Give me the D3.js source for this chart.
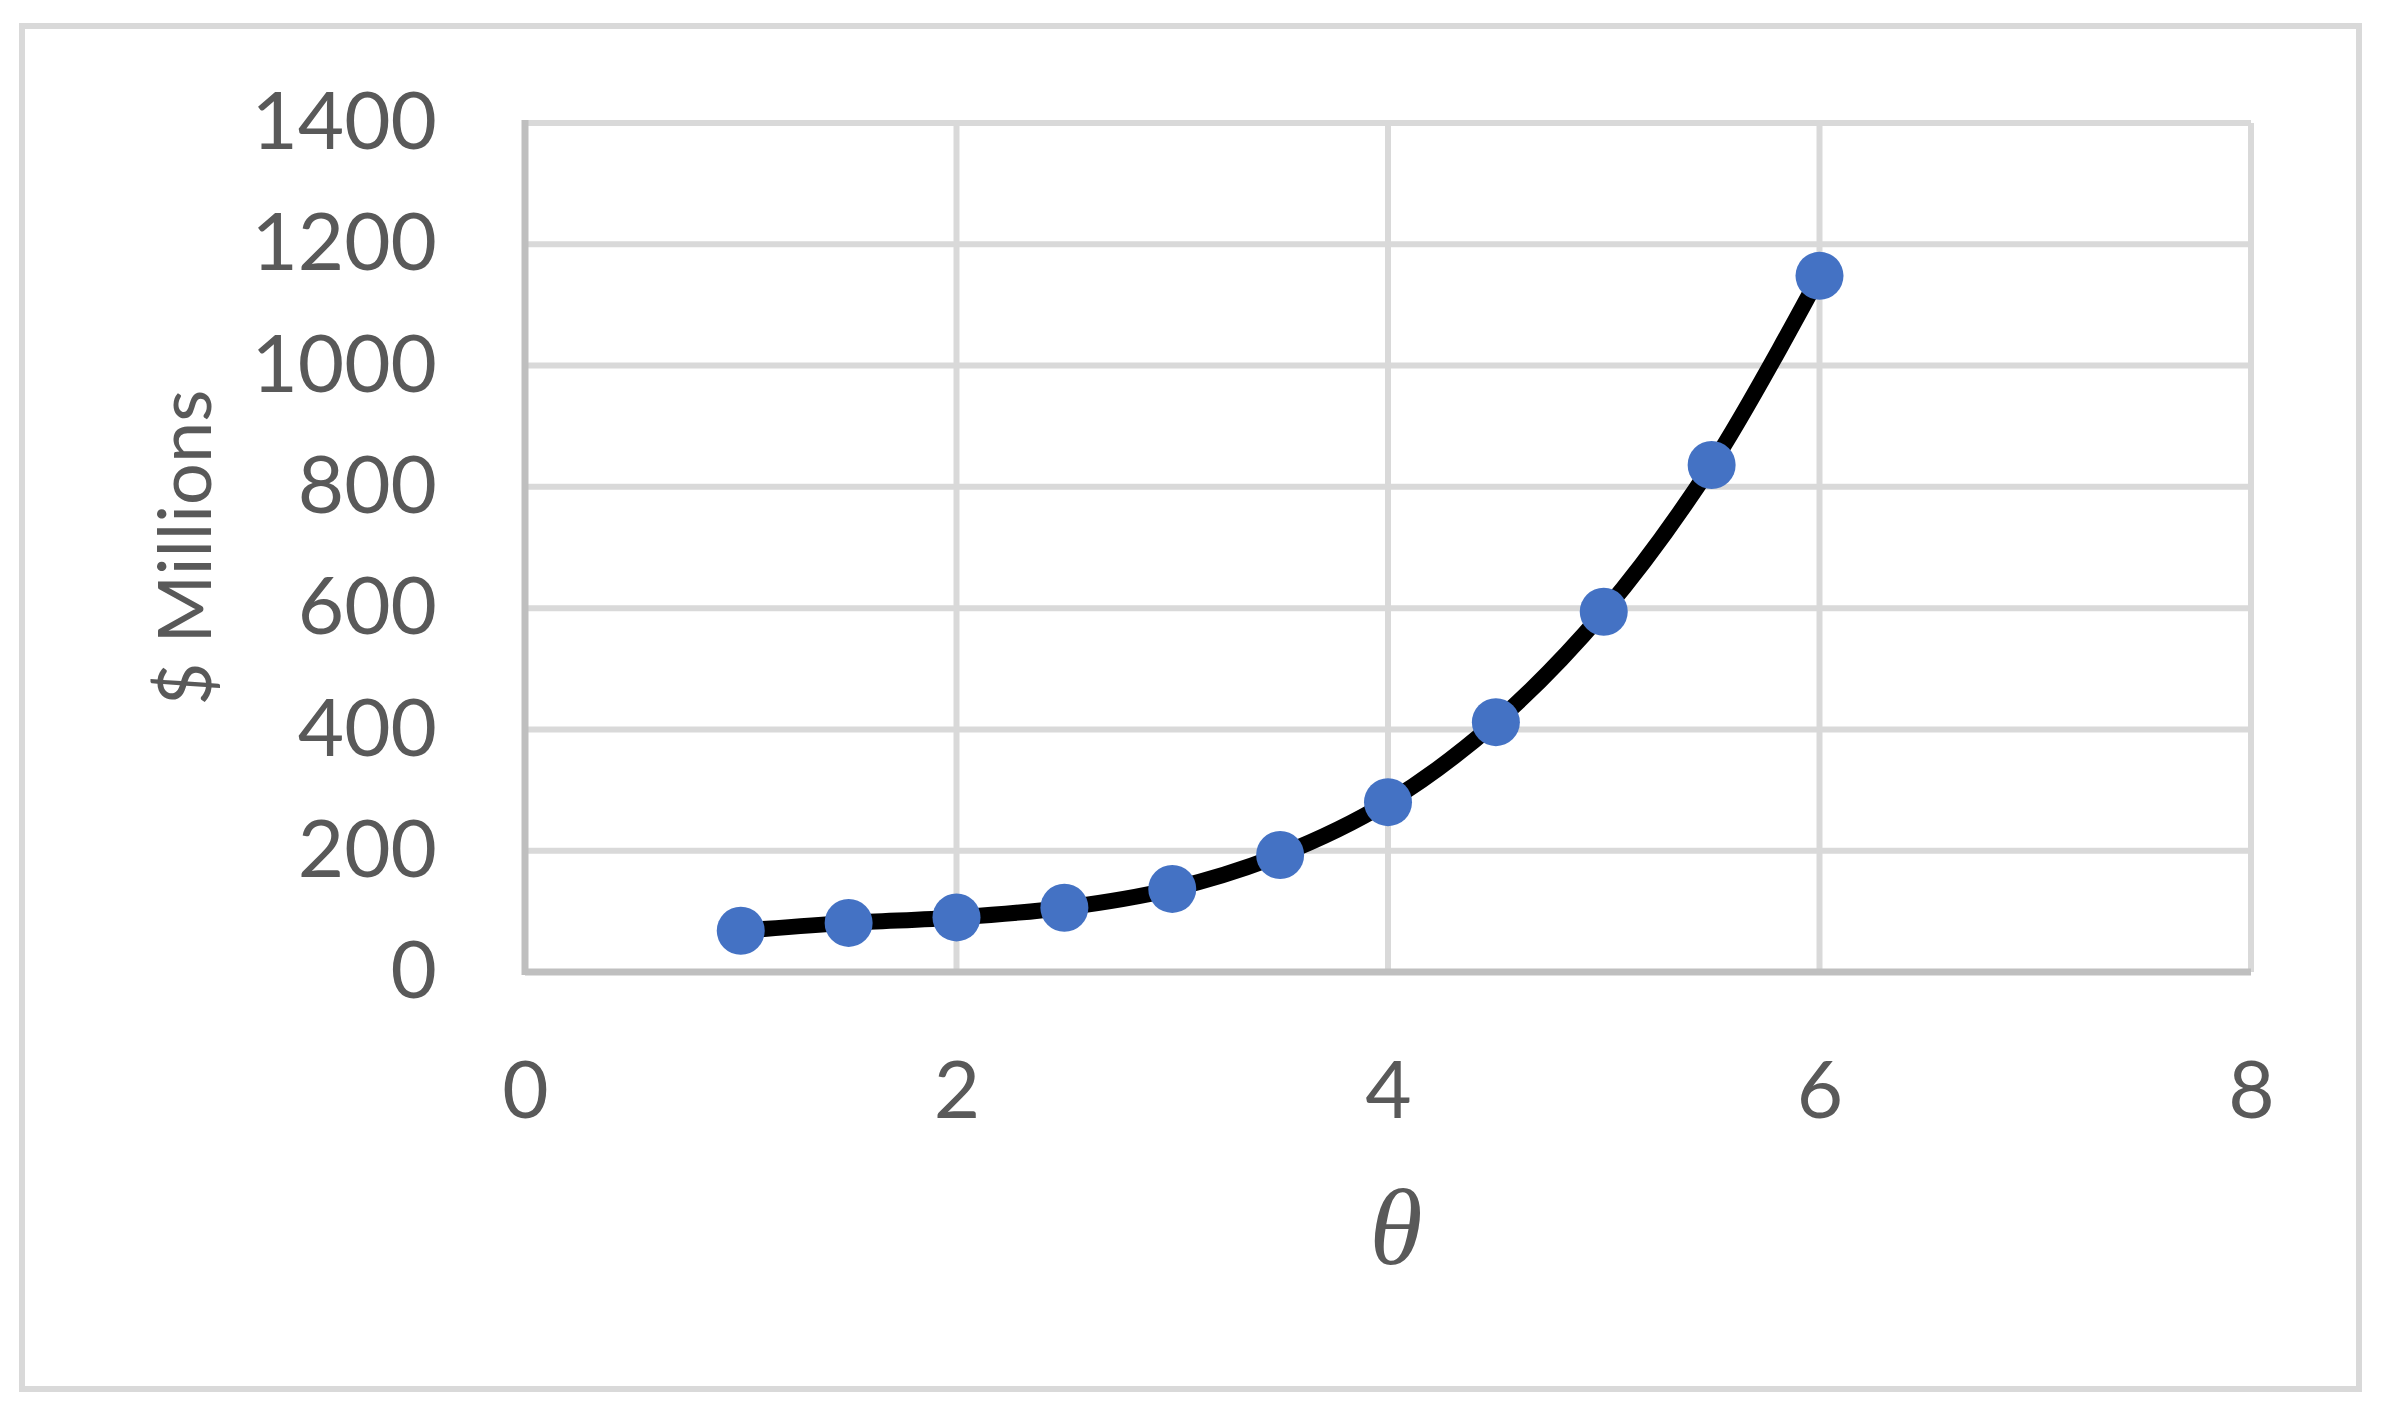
<!DOCTYPE html>
<meta charset="utf-8">
<script src="https://d3js.org/d3.v7.min.js"></script>
<style>
  body { margin: 0; background: #fff; }
</style>
<div id="chart"></div>
<script>

// data
var thetaValues = [1, 1.5, 2, 2.5, 3, 3.5, 4, 4.5, 5, 5.5, 6];
var millions = [68, 81, 90, 106, 137, 193, 280, 412, 594, 836, 1148];
var xTicks = [0, 2, 4, 6, 8];
var yTicks = [0, 200, 400, 600, 800, 1000, 1200, 1400];

var W = 2383, H = 1417;
var margin = {top: 123, right: 132, bottom: 445, left: 525};

var svg = d3.select("#chart")
  .append("svg")
    .attr("width", W)
    .attr("height", H);

svg.append("rect")
  .attr("width", W).attr("height", H)
  .attr("fill", "#fff");

// outer chart border
svg.append("rect")
  .attr("x", 22).attr("y", 26)
  .attr("width", 2337).attr("height", 1363)
  .attr("fill", "none")
  .attr("stroke", "#d9d9d9")
  .attr("stroke-width", 6);

var x = d3.scaleLinear().domain([0, 8]).range([margin.left, W - margin.right]);
var y = d3.scaleLinear().domain([0, 1400]).range([H - margin.bottom, margin.top]);

// gridlines
svg.append("g")
  .selectAll("line")
  .data(yTicks.filter(function(d) { return d > 0; }))
  .join("line")
    .attr("x1", x(0)).attr("x2", x(8))
    .attr("y1", function(d) { return y(d); })
    .attr("y2", function(d) { return y(d); })
    .attr("stroke", "#d9d9d9")
    .attr("stroke-width", 6);

svg.append("g")
  .selectAll("line")
  .data(xTicks.filter(function(d) { return d > 0; }))
  .join("line")
    .attr("x1", function(d) { return x(d); })
    .attr("x2", function(d) { return x(d); })
    .attr("y1", y(0)).attr("y2", y(1400))
    .attr("stroke", "#d9d9d9")
    .attr("stroke-width", 6);

// axis lines
svg.append("line")
  .attr("x1", x(0)).attr("x2", x(8))
  .attr("y1", y(0)).attr("y2", y(0))
  .attr("stroke", "#bfbfbf").attr("stroke-width", 7);
svg.append("line")
  .attr("x1", x(0)).attr("x2", x(0))
  .attr("y1", y(0) + 3).attr("y2", y(1400) - 3)
  .attr("stroke", "#bfbfbf").attr("stroke-width", 7);

// tick labels
var yAxis = svg.append("g")
  .attr("transform", "translate(" + x(0) + ",0)")
  .call(d3.axisLeft(y).tickValues(yTicks).tickFormat(d3.format("d")).tickSize(0).tickPadding(88));
var xAxis = svg.append("g")
  .attr("transform", "translate(0," + y(0) + ")")
  .call(d3.axisBottom(x).tickValues(xTicks).tickFormat(d3.format("d")).tickSize(0).tickPadding(89));

[yAxis, xAxis].forEach(function(a) {
  a.select(".domain").remove();
  a.selectAll("text")
    .style("font-family", "Lato, 'Open Sans', sans-serif")
    .style("font-size", "80px")
    .attr("fill", "#595959");
});

// axis titles
svg.append("text")
  .attr("transform", "translate(211," + (margin.top + y.range()[0]) / 2 + ") rotate(-90)")
  .attr("text-anchor", "middle")
  .style("font-family", "Lato, 'Open Sans', sans-serif")
  .style("font-size", "74px")
  .attr("fill", "#595959")
  .text("$ Millions");

svg.append("text")
  .attr("x", x(4) + 8)
  .attr("y", 1264)
  .attr("text-anchor", "middle")
  .style("font-family", "'Liberation Serif', serif")
  .style("font-style", "italic")
  .style("font-size", "108px")
  .attr("fill", "#595959")
  .text("θ");

// smoothed line
var pts = thetaValues.map(function(t, i) { return [t, millions[i]]; });
var line = d3.line()
  .x(function(d) { return x(d[0]); })
  .y(function(d) { return y(d[1]); })
  .curve(d3.curveCatmullRom.alpha(0.5));

svg.append("path")
  .datum(pts)
  .attr("d", line)
  .attr("fill", "none")
  .attr("stroke", "#000")
  .attr("stroke-width", 16)
  .attr("stroke-linejoin", "round");

// markers
svg.append("g")
  .selectAll("circle")
  .data(pts)
  .join("circle")
    .attr("cx", function(d) { return x(d[0]); })
    .attr("cy", function(d) { return y(d[1]); })
    .attr("r", 24)
    .attr("fill", "#4472c4");

</script>
